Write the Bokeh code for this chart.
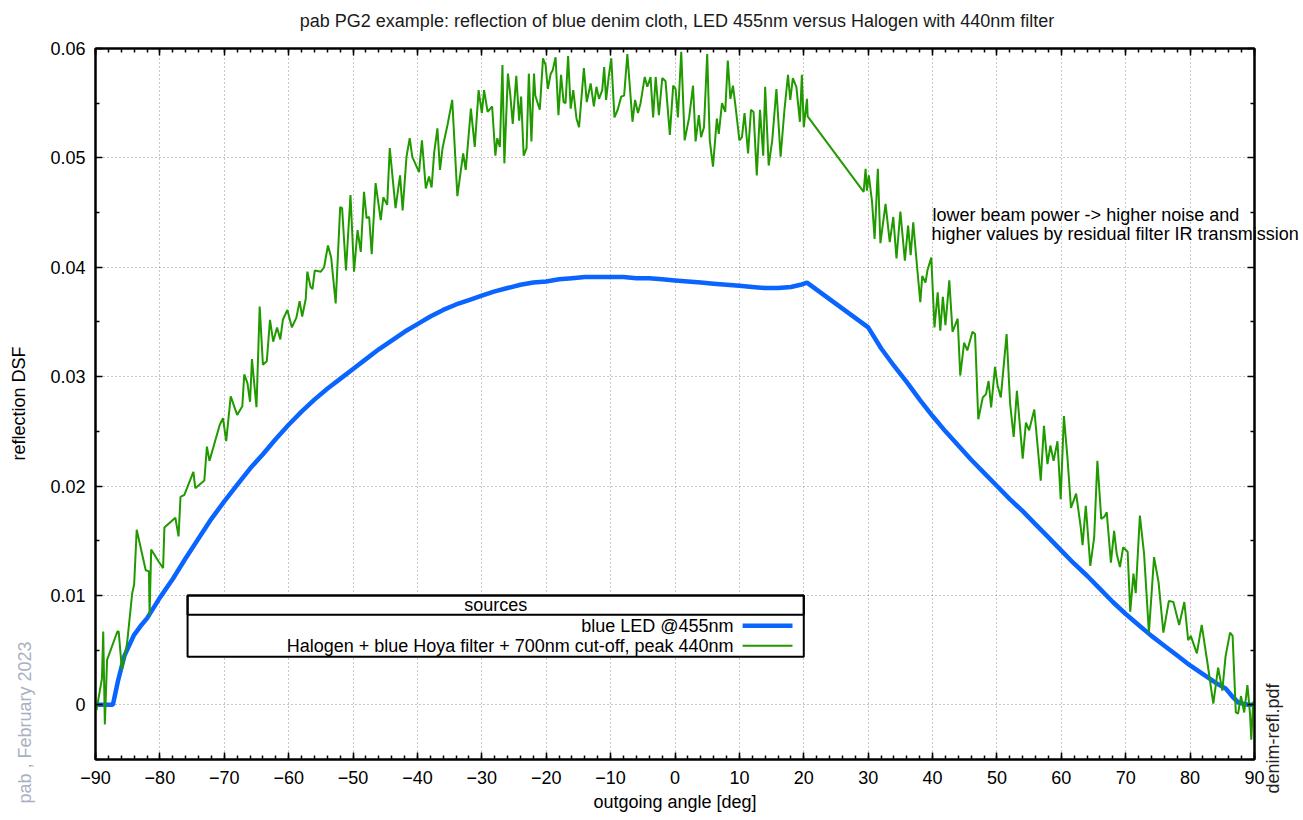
import math
from bokeh.plotting import figure
from bokeh.models import FixedTicker, LinearAxis, Label, BoxAnnotation, Range1d
from bokeh.embed import file_html
from bokeh.resources import INLINE

FONT = "Liberation Sans"
FS = "18px"

# ---------------- data ----------------
x_ticks = [-90, -80, -70, -60, -50, -40, -30, -20, -10, 0, 10, 20, 30, 40, 50, 60, 70, 80, 90]
x_minor = list(range(-90, 91, 2))
y_ticks = [0.0, 0.01, 0.02, 0.03, 0.04, 0.05, 0.06]
y_tick_labels = ["0", "0.01", "0.02", "0.03", "0.04", "0.05", "0.06"]
y_minor = [-0.005, 0.005, 0.015, 0.025, 0.035, 0.045, 0.055]

led_angle = [-90, -87.3, -86.5, -85.5, -84, -83, -82, -80, -78, -76, -74, -72, -70, -68, -66,
             -64, -62, -60, -58, -56, -54, -52, -50, -48, -46, -44, -42, -40, -38, -36, -34,
             -32, -30, -28, -26, -24, -22, -20, -18, -16, -14, -12, -10, -8, -6, -4, -2, 0,
             2, 4, 6, 8, 10, 12, 14, 16, 18, 19.5, 20.5, 30, 32, 34, 36, 38, 40, 42, 44, 46,
             48, 50, 52, 54, 56, 58, 60, 62, 64, 66, 68, 70, 72, 74, 76, 78, 80, 82, 84, 85.5,
             86.5, 87.5, 89, 90]
led_dsf = [0.0, 0.0, 0.0022, 0.0045, 0.0064, 0.0072, 0.0079, 0.0098, 0.0115, 0.0134, 0.0152,
           0.0170, 0.0186, 0.0201, 0.0216, 0.0229, 0.0243, 0.0256, 0.0268, 0.0279, 0.0289,
           0.0298, 0.0307, 0.0316, 0.0325, 0.0333, 0.0341, 0.0348, 0.0355, 0.0361, 0.0366,
           0.0370, 0.0374, 0.0378, 0.0381, 0.0384, 0.0386, 0.0387, 0.0389, 0.0390, 0.0391,
           0.0391, 0.0391, 0.0391, 0.0390, 0.0390, 0.0389, 0.0388, 0.0387, 0.0386, 0.0385,
           0.0384, 0.0383, 0.0382, 0.0381, 0.0381, 0.0382, 0.0384, 0.0386, 0.0345, 0.0326,
           0.0310, 0.0295, 0.0279, 0.0264, 0.0250, 0.0237, 0.0224, 0.0212, 0.0200, 0.0188,
           0.0177, 0.0165, 0.0153, 0.0141, 0.0129, 0.0118, 0.0106, 0.0094, 0.0083, 0.0073,
           0.0063, 0.0054, 0.0045, 0.0036, 0.0028, 0.0020, 0.0015, 0.0008, 0.0002, 0.0, 0.0]

halogen_angle = [
    -89.85, -89.0, -88.8, -88.55, -88.2, -86.6, -86.4, -85.9, -85.1, -84.3,
    -84.0, -83.6, -82.2, -81.7, -81.6, -81.35, -80.2, -79.5, -79.3, -77.6,
    -77.1, -76.8, -76.2, -74.8, -74.5, -73.1, -72.7, -72.3, -70.7, -70.2,
    -69.7, -69.0, -68.0, -67.2, -66.9, -66.4, -66.0, -65.7, -65.0, -64.5,
    -64.0, -63.4, -62.9, -62.4, -61.8, -61.3, -60.9, -60.2, -59.5, -58.8, -58.3,
    -57.9, -57.35, -57.1, -56.6, -56.3, -55.95, -55.0, -54.5, -53.9, -53.4,
    -52.7, -52.0, -51.7, -51.1, -50.4, -49.85, -49.3, -48.8, -48.3, -47.9,
    -47.5, -47.1, -46.5, -45.7, -45.3, -44.7, -44.3, -43.4, -42.7, -42.3,
    -41.7, -41.2, -40.8, -39.75, -39.3, -38.7, -38.2, -37.8, -37.4, -36.9,
    -36.5, -36.1, -35.3, -34.6, -33.8, -32.9, -32.5, -31.7, -31.1, -30.5,
    -30.0, -29.65, -29.1, -28.4,
    -27.9, -27.6, -27.2, -26.8, -26.5, -25.95, -25.6, -25.2, -24.65, -24.2,
    -23.9, -23.5, -23.05, -22.7, -22.3, -21.9, -21.7, -21.0, -20.5, -20.1,
    -19.75, -19.3, -19.0, -18.55, -18.1, -17.7, -17.3, -17.0, -16.6, -16.2,
    -15.8, -15.3, -14.9, -14.15, -13.7, -13.1, -12.6, -12.2, -11.8, -11.3,
    -11.0, -10.7, -10.3, -9.9, -9.4, -8.9, -8.35, -7.9, -7.4, -6.6,
    -6.2, -5.75, -5.35, -4.7, -4.3, -3.8, -3.4, -3.0, -2.5, -1.98,
    -1.47, -0.8, -0.28, 0.09, 0.45, 0.97, 1.5, 2.2, 2.8, 3.2, 3.7,
    4.05, 4.5, 5.0, 5.4, 5.9, 6.5, 6.8, 7.3, 7.8, 8.2,
    8.6, 9.0, 9.4, 10.0, 10.4, 10.8, 11.35, 11.8, 12.2, 12.7,
    13.2, 13.7, 14.0, 14.55, 15.1, 15.75, 16.4, 17.0, 17.55, 17.9,
    18.3, 18.85, 19.4, 19.7, 20.0, 20.5, 20.6, 29.3, 29.6, 29.8,
    30.1, 30.6, 31.0, 31.5, 31.9, 32.7, 33.35, 33.9, 34.4, 35.0,
    35.7, 36.2, 36.6, 37.0, 37.6, 38.1, 38.4, 38.9, 39.2, 39.8,
    40.3, 40.8, 41.2, 41.6, 42.0, 42.6, 43.1, 43.9, 44.3, 44.9,
    45.4, 46.2, 46.6, 47.1, 47.8, 48.3, 48.7, 49.1, 49.7, 50.1,
    50.6, 51.5, 52.05, 52.6, 53.1, 54.0, 54.5, 55.0, 55.8, 56.8,
    57.3, 57.85, 58.3, 58.8, 59.4, 59.9, 60.4, 60.95, 61.5, 62.3,
    63.0, 63.3, 63.8, 64.5, 65.1, 65.6, 66.2, 66.7, 67.05, 67.7,
    68.2, 68.6, 69.1, 69.6, 70.3, 70.7, 71.2, 71.55, 72.2, 72.85,
    73.6, 74.4, 75.1, 75.85, 76.7, 77.4, 78.3, 79.1, 79.7, 80.1,
    81.05, 81.8, 82.7, 83.6, 84.35, 85.0, 85.5, 86.2, 86.6, 87.1,
    87.45, 87.9, 88.4, 88.9, 89.3, 89.5, 89.8]
halogen_dsf = [
    -0.0005, 0.0024, 0.0067, -0.0018, 0.0041, 0.0067, 0.0067, 0.0032, 0.0056, 0.0102,
    0.0110, 0.0160, 0.0123, 0.0122, 0.0082, 0.0142, 0.0131, 0.0125, 0.0162, 0.0171,
    0.0154, 0.0190, 0.0192, 0.0213, 0.0198, 0.0205, 0.0236, 0.0223, 0.0256, 0.0262,
    0.0241, 0.0282, 0.0265, 0.0273, 0.0302, 0.0294, 0.0277, 0.0316, 0.0272, 0.0364,
    0.0311, 0.0314, 0.0352, 0.0332, 0.0345, 0.0334, 0.0352, 0.0361, 0.0345, 0.0354, 0.0369,
    0.0355, 0.0371, 0.0396, 0.0382, 0.0380, 0.0397, 0.0396, 0.0400, 0.0420, 0.0409,
    0.0367, 0.0455, 0.0454, 0.0397, 0.0466, 0.0396, 0.0434, 0.0414, 0.0469, 0.0445,
    0.0446, 0.0412, 0.0477, 0.0443, 0.0464, 0.0457, 0.0509, 0.0454, 0.0484, 0.0452,
    0.0501, 0.0518, 0.0501, 0.0487, 0.0516, 0.0472, 0.0483, 0.0473, 0.0505, 0.0527,
    0.0489, 0.0509, 0.0531, 0.0553, 0.0465, 0.0504, 0.0489, 0.0545, 0.0510, 0.0562,
    0.0541, 0.0562, 0.0542, 0.0547,
    0.0502, 0.0518, 0.0510, 0.0585, 0.0495, 0.0577, 0.0559, 0.0531, 0.0575, 0.0534,
    0.0556, 0.0502, 0.0509, 0.0577, 0.0515, 0.0577, 0.0557, 0.0544, 0.0591, 0.0585,
    0.0563, 0.0577, 0.0580, 0.0592, 0.0539, 0.0576, 0.0551, 0.0550, 0.0593, 0.0545,
    0.0562, 0.0536, 0.0528, 0.0582, 0.0551, 0.0568, 0.0547, 0.0565, 0.0554, 0.0562,
    0.0583, 0.0553, 0.0574, 0.0591, 0.0537, 0.0544, 0.0556, 0.0557, 0.0595, 0.0533,
    0.0553, 0.0541, 0.0550, 0.0574, 0.0565, 0.0574, 0.0537, 0.0574, 0.0539, 0.0573,
    0.0570, 0.0521, 0.0566, 0.0563, 0.0537, 0.0597, 0.0516, 0.0537, 0.0566, 0.0515, 0.0539,
    0.0519, 0.0528, 0.0595, 0.0516, 0.0492, 0.0536, 0.0522, 0.0550, 0.0542, 0.0589,
    0.0554, 0.0566, 0.0547, 0.0516, 0.0519, 0.0541, 0.0504, 0.0544, 0.0542, 0.0484,
    0.0544, 0.0502, 0.0565, 0.0493, 0.0516, 0.0563, 0.0501, 0.0544, 0.0576, 0.0553,
    0.0573, 0.0565, 0.0533, 0.0576, 0.0528, 0.0554, 0.0538, 0.0469, 0.0490, 0.0470,
    0.0484, 0.0460, 0.0426, 0.0490, 0.0422, 0.0458, 0.0423, 0.0446, 0.0408, 0.0451,
    0.0406, 0.0438, 0.0411, 0.0441, 0.0400, 0.0368, 0.0392, 0.0386, 0.0397, 0.0409,
    0.0345, 0.0377, 0.0342, 0.0373, 0.0347, 0.0388, 0.0341, 0.0353, 0.0301, 0.0331,
    0.0324, 0.0341, 0.0339, 0.0261, 0.0281, 0.0284, 0.0296, 0.0272, 0.0309, 0.0292,
    0.0281, 0.0339, 0.0275, 0.0245, 0.0287, 0.0225, 0.0258, 0.0251, 0.0270, 0.0205,
    0.0255, 0.0220, 0.0237, 0.0223, 0.0241, 0.0188, 0.0264, 0.0226, 0.0180, 0.0193,
    0.0163, 0.0146, 0.0182, 0.0127, 0.0153, 0.0223, 0.0170, 0.0172, 0.0176, 0.0130,
    0.0159, 0.0138, 0.0126, 0.0144, 0.0140, 0.0085, 0.0120, 0.0102, 0.0173, 0.0138,
    0.0066, 0.0135, 0.0112, 0.0066, 0.0095, 0.0094, 0.0073, 0.0094, 0.0059, 0.0063,
    0.0047, 0.0073, 0.0038, 0.0001, 0.0034, 0.0013, 0.0044, 0.0066, 0.0063, -0.0007,
    -0.0008, 0.0008, -0.0007, 0.0018, -0.0008, -0.0032, 0.0003]

assert len(halogen_angle) == len(halogen_dsf)
assert len(led_angle) == len(led_dsf)

series_labels = ["blue LED @455nm", "Halogen + blue Hoya filter + 700nm cut-off, peak 440nm"]
series_colors = ["#0a64ff", "#219a00"]
title_text = "pab PG2 example: reflection of blue denim cloth, LED 455nm versus Halogen with 440nm filter"
note_lines = ["lower beam power -> higher noise and",
              "higher values by residual filter IR transmission"]

# ---------------- figure ----------------
p = figure(width=1303, height=820, output_backend="svg", toolbar_location=None,
           x_range=Range1d(-90, 90), y_range=Range1d(-0.005, 0.06),
           min_border_left=95, min_border_right=49, min_border_top=48, min_border_bottom=61,
           x_axis_label="outgoing angle [deg]")
p.background_fill_color = "white"
p.border_fill_color = "white"
p.outline_line_color = "black"
p.outline_line_width = 2
p.title.text = ""
p.title.visible = False

xt = FixedTicker(ticks=x_ticks, minor_ticks=x_minor)
yt = FixedTicker(ticks=y_ticks, minor_ticks=y_minor)
p.xaxis.ticker = xt
p.yaxis.ticker = yt
p.yaxis.major_label_overrides = {t: s for t, s in zip(y_ticks, y_tick_labels)}

p.add_layout(LinearAxis(ticker=xt), "above")
p.add_layout(LinearAxis(ticker=yt), "right")

for ax in p.axis:
    ax.axis_line_width = 2
    ax.axis_line_color = "black"
    ax.major_tick_in = 7
    ax.major_tick_out = 0
    ax.minor_tick_in = 4
    ax.minor_tick_out = 0
    ax.major_tick_line_width = 1.5
    ax.minor_tick_line_width = 1.5
    ax.major_label_text_font = FONT
    ax.major_label_text_font_size = FS
    ax.major_label_text_color = "black"
    ax.major_label_standoff = 11
    ax.axis_label_text_font = FONT
    ax.axis_label_text_font_size = FS
    ax.axis_label_text_font_style = "normal"
    ax.axis_label_text_color = "black"

for ax in (p.above[-1], p.right[-1]):
    ax.major_label_text_font_size = "0px"
    ax.major_label_standoff = 0

p.xaxis[0].major_label_standoff = 13
p.xaxis[0].axis_label_standoff = 5
p.yaxis[0].major_label_standoff = 10

p.xgrid.ticker = xt
p.ygrid.ticker = yt
for g in (p.xgrid, p.ygrid):
    g.grid_line_color = "#909090"
    g.grid_line_dash = "1 3"
    g.grid_line_width = 1

# curves
p.line(led_angle, led_dsf, line_color=series_colors[0], line_width=4.5)
p.line(halogen_angle, halogen_dsf, line_color=series_colors[1], line_width=2)

# ---------------- legend (drawn manually, gnuplot style) ----------------
LEG_L, LEG_R = -75.7, 20.0
LEG_TOP, LEG_SEP, LEG_BOT = 0.0100, 0.00823, 0.00439
p.add_layout(BoxAnnotation(left=LEG_L, right=LEG_R, bottom=LEG_BOT, top=LEG_TOP,
                           fill_color="white", fill_alpha=1, line_color="black",
                           line_alpha=1, line_width=2))
p.add_layout(BoxAnnotation(left=LEG_L, right=LEG_R, bottom=LEG_SEP, top=LEG_TOP,
                           fill_alpha=0, line_color="black", line_alpha=1, line_width=2))
p.add_layout(Label(x=(LEG_L + LEG_R) / 2, y=(LEG_TOP + LEG_SEP) / 2, text="sources",
                   text_align="center", text_baseline="middle", text_font=FONT,
                   text_font_size=FS, text_color="black"))
row_y = [0.00723, 0.0054]
for lab, col, ry, lw in zip(series_labels, series_colors, row_y, [4.5, 2]):
    p.add_layout(Label(x=9.1, y=ry, text=lab, text_align="right", text_baseline="middle",
                       text_font=FONT, text_font_size=FS, text_color="black"))
    p.segment(x0=[10.5], y0=[ry], x1=[18.25], y1=[ry], line_color=col, line_width=lw,
              level="overlay")

# annotation text: first line inside the frame, second line runs past the frame
p.add_layout(Label(x=40, y=0.0448, text=note_lines[0],
                   text_align="left", text_baseline="middle", text_font=FONT,
                   text_font_size=FS, text_color="black"))
# (placed in the 'above' panel, screen units relative to that slot, so it is not clipped)
p.add_layout(Label(x=836, y=-185, x_units="screen", y_units="screen", text=note_lines[1],
                   text_align="left", text_baseline="middle", text_font=FONT,
                   text_font_size=FS, text_color="black"), "above")
# title
p.add_layout(Label(x=581.5, y=8, x_units="screen", y_units="screen", text=title_text,
                   text_align="center", text_baseline="middle", text_font=FONT,
                   text_font_size=FS, text_color="#1a1a1a"), "above")

# side texts (placed in the side panels so they are not clipped to the frame)
p.add_layout(Label(x=-9, y=356, x_units="screen", y_units="screen", text="reflection DSF",
                   angle=math.pi / 2, text_align="center", text_baseline="middle",
                   text_font=FONT, text_font_size=FS, text_color="black"), "left")
p.add_layout(Label(x=17, y=37, x_units="screen", y_units="screen", text="pab , February 2023",
                   angle=math.pi / 2, text_align="center", text_baseline="middle",
                   text_font=FONT, text_font_size=FS, text_color="#a9b0c2"), "left")
p.add_layout(Label(x=18, y=21, x_units="screen", y_units="screen", text="denim-refl.pdf",
                   angle=math.pi / 2, text_align="center", text_baseline="middle",
                   text_font=FONT, text_font_size=FS, text_color="#222222"), "right")

open("out.html", "w").write(file_html(p, INLINE))
